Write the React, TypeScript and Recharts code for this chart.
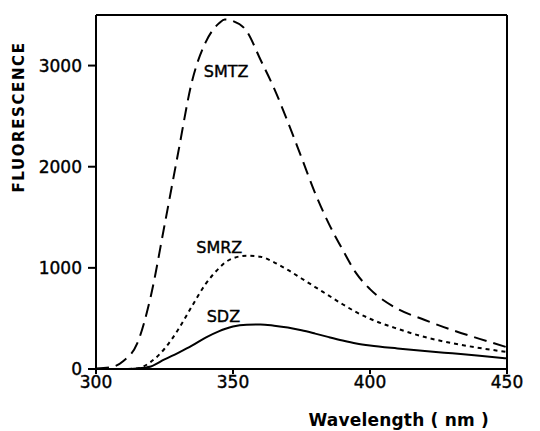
import { LineChart, Line, XAxis, YAxis, ReferenceLine, ReferenceDot, Label } from 'recharts';

// Wavelength (nm) and fluorescence readings for the three compounds
const wavelengths = [300, 305, 310, 315, 320, 325, 330, 335, 340, 345, 347, 350, 355, 360, 365, 370, 375, 380, 385, 390, 395, 400, 410, 420, 430, 440, 450];
const smtz = [5, 15, 80, 250, 720, 1420, 2140, 2840, 3230, 3420, 3455, 3440, 3340, 3060, 2775, 2444, 2091, 1737, 1435, 1180, 945, 790, 595, 485, 385, 298, 215];
const smrz = [0, 0, 0, 5, 70, 200, 390, 620, 840, 1000, 1050, 1095, 1120, 1110, 1055, 980, 895, 810, 725, 640, 562, 497, 398, 316, 255, 208, 168];
const sdz = [0, 0, 0, 5, 25, 95, 160, 230, 310, 375, 395, 420, 438, 440, 428, 410, 383, 350, 315, 282, 253, 232, 203, 178, 155, 132, 105];

const xTicks = [300, 350, 400, 450];
const yTicks = [0, 1000, 2000, 3000];

// label anchor points in data coordinates
const labels = [
  { name: 'SMTZ', x: 347.5, y: 2940 },
  { name: 'SMRZ', x: 345, y: 1200 },
  { name: 'SDZ', x: 346.5, y: 525 },
];

const data = wavelengths.map((w, i) => ({ w, smtz: smtz[i], smrz: smrz[i], sdz: sdz[i] }));

const font = '"DejaVu Sans", sans-serif';
const textStyle = { fill: '#000', stroke: '#000', strokeWidth: 0.4, fontSize: 16, fontFamily: font };

const App = () => {
  return (
    <div style={{ position: 'absolute', left: 0, top: 0, background: '#fff' }}>
      <LineChart width={540} height={431} data={data} margin={{ top: 15, right: 33, left: 0, bottom: 0 }}>
        <XAxis
          dataKey="w"
          type="number"
          domain={[300, 450]}
          ticks={xTicks}
          height={62}
          stroke="#000"
          strokeWidth={2}
          tickSize={5}
          tick={{ ...textStyle, fontSize: 17 }}
        >
          <Label
            value="Wavelength ( nm )"
            position="insideBottomRight"
            offset={0}
            dx={-18}
            dy={-5}
            style={{ fill: '#000', fontSize: 17, fontWeight: 'bold', fontFamily: font, letterSpacing: 0.2 }}
          />
        </XAxis>
        <YAxis
          type="number"
          domain={[0, 3500]}
          ticks={yTicks}
          width={96}
          stroke="#000"
          strokeWidth={2}
          tickSize={8}
          tick={{ ...textStyle, fontSize: 17, dx: -4 }}
        >
          <Label
            content={() => (
              <text
                x={19}
                y={117}
                transform="rotate(-90 19 117)"
                textAnchor="middle"
                dominantBaseline="central"
                style={{ fill: '#000', fontSize: 15, fontWeight: 'bold', fontFamily: font, letterSpacing: 1.6 }}
              >
                FLUORESCENCE
              </text>
            )}
          />
        </YAxis>
        <ReferenceLine y={3500} stroke="#000" strokeWidth={2} />
        <ReferenceLine x={450} stroke="#000" strokeWidth={2} />
        <Line type="monotone" dataKey="smtz" stroke="#000" strokeWidth={2} strokeDasharray="13 7" dot={false} isAnimationActive={false} />
        <Line type="monotone" dataKey="smrz" stroke="#000" strokeWidth={2} strokeDasharray="4 4" dot={false} isAnimationActive={false} />
        <Line type="monotone" dataKey="sdz" stroke="#000" strokeWidth={2} dot={false} isAnimationActive={false} />
        {labels.map((l) => (
          <ReferenceDot
            key={l.name}
            x={l.x}
            y={l.y}
            r={0}
            fill="none"
            stroke="none"
            label={{ value: l.name, position: 'center', style: textStyle }}
          />
        ))}
      </LineChart>
    </div>
  );
};

export default App;
